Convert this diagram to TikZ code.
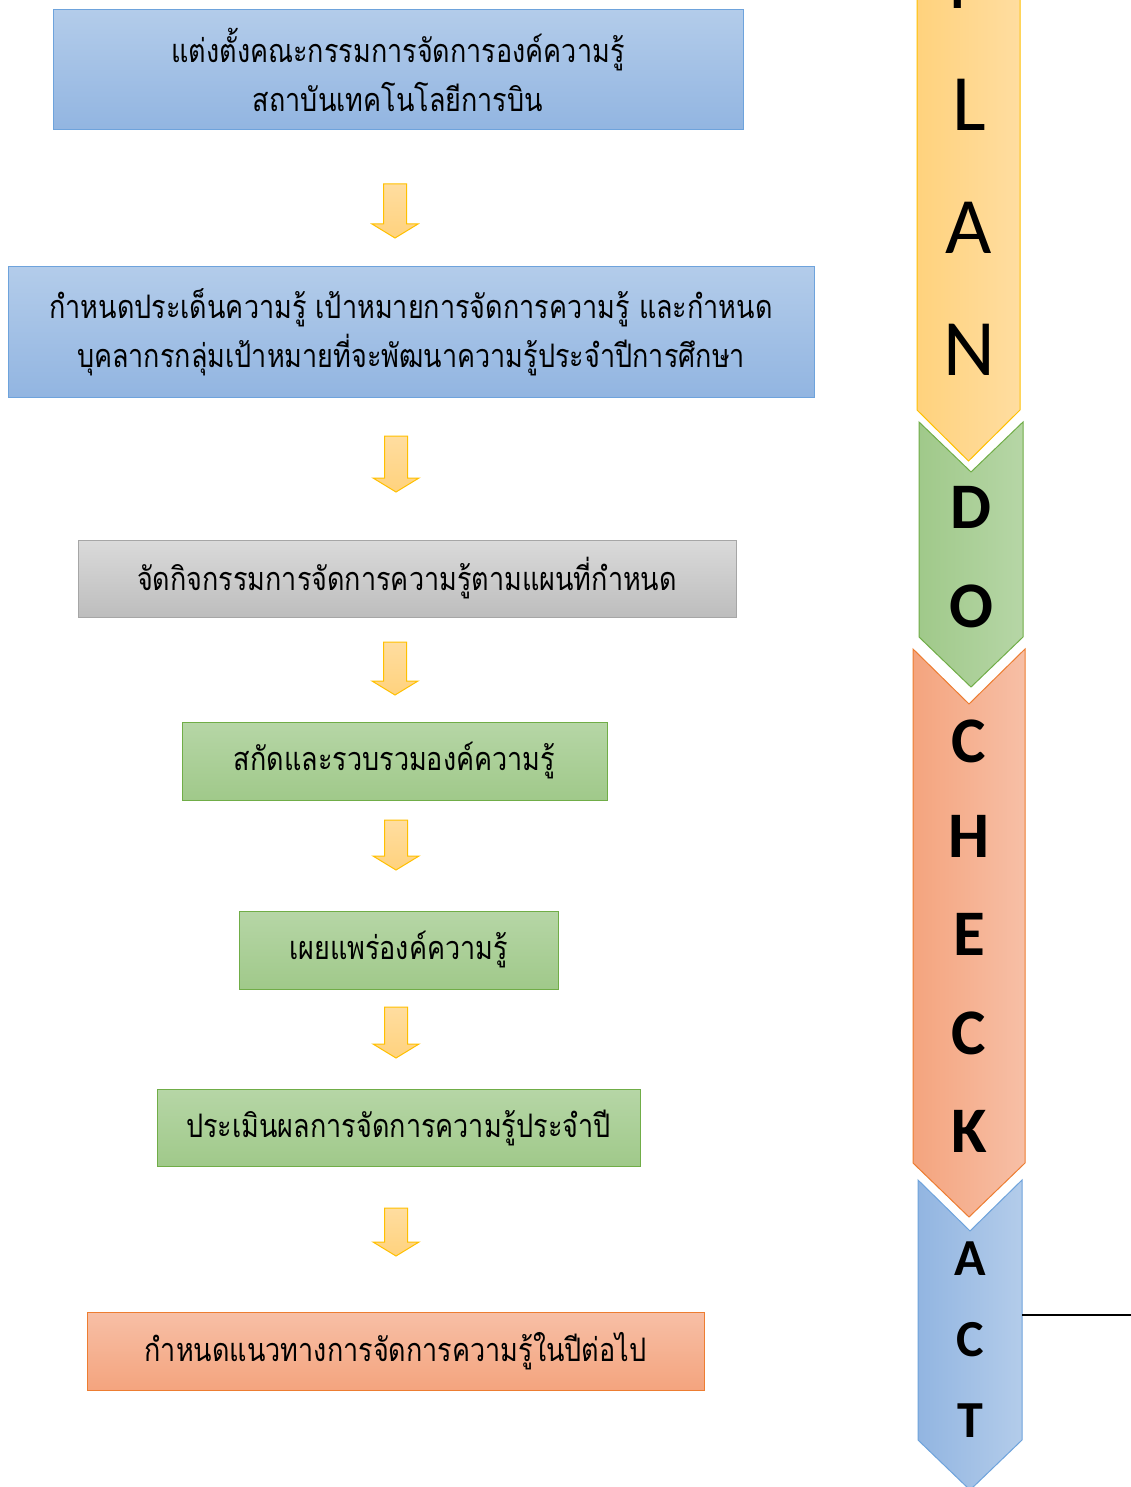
\documentclass[tikz,border=0pt]{standalone}
\usepackage{fontspec}
\usepackage{graphicx}
\newfontfamily\thaifont[Script=Thai]{Loma}
\newfontfamily\latinbold{Carlito}
\definecolor{bluedk}{HTML}{92B5E1}
\definecolor{bluelt}{HTML}{B3CCEA}
\definecolor{blueline}{HTML}{6EA3DC}
\definecolor{graydk}{HTML}{BDBDBD}
\definecolor{graylt}{HTML}{DADADA}
\definecolor{grayline}{HTML}{A6A6A6}
\definecolor{greendk}{HTML}{A0C98A}
\definecolor{greenlt}{HTML}{B6D6A6}
\definecolor{greenline}{HTML}{70AD47}
\definecolor{orangedk}{HTML}{F4A47E}
\definecolor{orangelt}{HTML}{F7BFA6}
\definecolor{orangeline}{HTML}{ED7D31}
\definecolor{yellowdk}{HTML}{FFD27D}
\definecolor{yellowlt}{HTML}{FFDDA0}
\definecolor{yellowline}{HTML}{FFC000}
\newcommand\thline[1]{\scalebox{1}[1.2]{#1}}
\newcommand\blkarrow[3]{% x, ytop, ybottom
  \path[arrowshape] (#1-11.5,#2) -- (#1+11.5,#2) -- (#1+11.5,#3-14) -- (#1+23,#3-14)
    -- (#1,#3) -- (#1-23,#3-14) -- (#1-11.5,#3-14) -- cycle;}
\newcommand\chevronshape[7]{% style, x1, x2, top, notch, sideend, tip
  \path[#1] (#2,#4) -- ({(#2+#3)/2},#5) -- (#3,#4) -- (#3,#6) -- ({(#2+#3)/2},#7) -- (#2,#6) -- cycle;}
\begin{document}
\begin{tikzpicture}[x=1pt,y=-1pt,
  box/.style={draw, line width=1pt, inner sep=0pt, align=center,
    font=\thaifont\fontsize{27}{49}\selectfont},
  bluebox/.style={box, draw=blueline, top color=bluelt, bottom color=bluedk},
  graybox/.style={box, draw=grayline, top color=graylt, bottom color=graydk},
  greenbox/.style={box, draw=greenline, top color=greenlt, bottom color=greendk},
  orangebox/.style={box, draw=orangeline, top color=orangelt, bottom color=orangedk},
  arrowshape/.style={draw=yellowline, line width=1pt, top color=yellowlt, bottom color=yellowdk},
  chevplan/.style={draw=yellowline, line width=1pt, left color=yellowdk, right color=yellowlt},
  chevdo/.style={draw=greenline, line width=1pt, left color=greendk, right color=greenlt},
  chevcheck/.style={draw=orangeline, line width=1pt, left color=orangedk, right color=orangelt},
  chevact/.style={draw=blueline, line width=1pt, left color=bluedk, right color=bluelt},
  letter/.style={inner sep=0pt, text=black, font=\latinbold\bfseries\fontsize{65}{65}\selectfont},
  letterplan/.style={letter, font=\latinbold\fontsize{80}{80}\selectfont},
  letteract/.style={letter, font=\latinbold\bfseries\fontsize{52}{52}\selectfont}]
\useasboundingbox (0,0) rectangle (1131,1487);
\clip (0,0) rectangle (1131,1487);
\fill[white] (0,0) rectangle (1131,1487);

% left boxes
\node[bluebox, minimum width=690pt, minimum height=120pt] (b1) at (398,70)
  {\thline{แต่งตั้งคณะกรรมการจัดการองค์ความรู้}\\\thline{สถาบันเทคโนโลยีการบิน}};
\node[bluebox, minimum width=806pt, minimum height=130pt] (b2) at (411,332)
  {\thline{กำหนดประเด็นความรู้ เป้าหมายการจัดการความรู้ และกำหนด}\\\thline{บุคลากรกลุ่มเป้าหมายที่จะพัฒนาความรู้ประจำปีการศึกษา}};
\node[graybox, minimum width=658pt, minimum height=77pt] (b3) at (407,578.5)
  {\thline{จัดกิจกรรมการจัดการความรู้ตามแผนที่กำหนด}};
\node[greenbox, minimum width=425pt, minimum height=78pt] (b4) at (394.5,761)
  {\thline{สกัดและรวบรวมองค์ความรู้}};
\node[greenbox, minimum width=319pt, minimum height=78pt] (b5) at (398.5,950)
  {\thline{เผยแพร่องค์ความรู้}};
\node[greenbox, minimum width=483pt, minimum height=77pt] (b6) at (398.5,1127.5)
  {\thline{ประเมินผลการจัดการความรู้ประจำปี}};
\node[orangebox, minimum width=617pt, minimum height=78pt] (b7) at (395.5,1351)
  {\thline{กำหนดแนวทางการจัดการความรู้ในปีต่อไป}};

% block arrows
\blkarrow{395}{184}{238}
\blkarrow{396}{436}{492}
\blkarrow{395}{642}{695}
\blkarrow{396}{820}{870}
\blkarrow{396}{1007}{1058}
\blkarrow{396}{1208}{1256}

% PDCA chevrons
\chevronshape{chevplan}{917}{1020}{-100}{-50}{410}{461}
\chevronshape{chevdo}{919}{1023}{422}{472}{637}{687}
\chevronshape{chevcheck}{913}{1025}{649}{704}{1163}{1217}
\chevronshape{chevact}{918}{1022}{1180}{1231}{1440}{1490}

\node[letterplan] (p1) at (969,-17) {P};
\node[letterplan] (p2) at (969,105) {L};
\node[letterplan] (p3) at (969,228) {A};
\node[letterplan] (p4) at (969,350) {N};
\node[letter] (d1) at (971,507) {D};
\node[letter] (d2) at (971,606) {O};
\node[letter] (c1) at (969,741) {C};
\node[letter] (c2) at (969,836) {H};
\node[letter] (c3) at (969,934) {E};
\node[letter] (c4) at (969,1033) {C};
\node[letter] (c5) at (969,1131) {K};
\node[letteract] (a1) at (970,1259) {A};
\node[letteract] (a2) at (970,1340) {C};
\node[letteract] (a3) at (970,1421) {T};

\coordinate (actR) at (1022,1315);
\coordinate (lineend) at (1131,1315);
\draw[line width=1.3pt] (actR) -- (lineend);
\end{tikzpicture}
\end{document}
